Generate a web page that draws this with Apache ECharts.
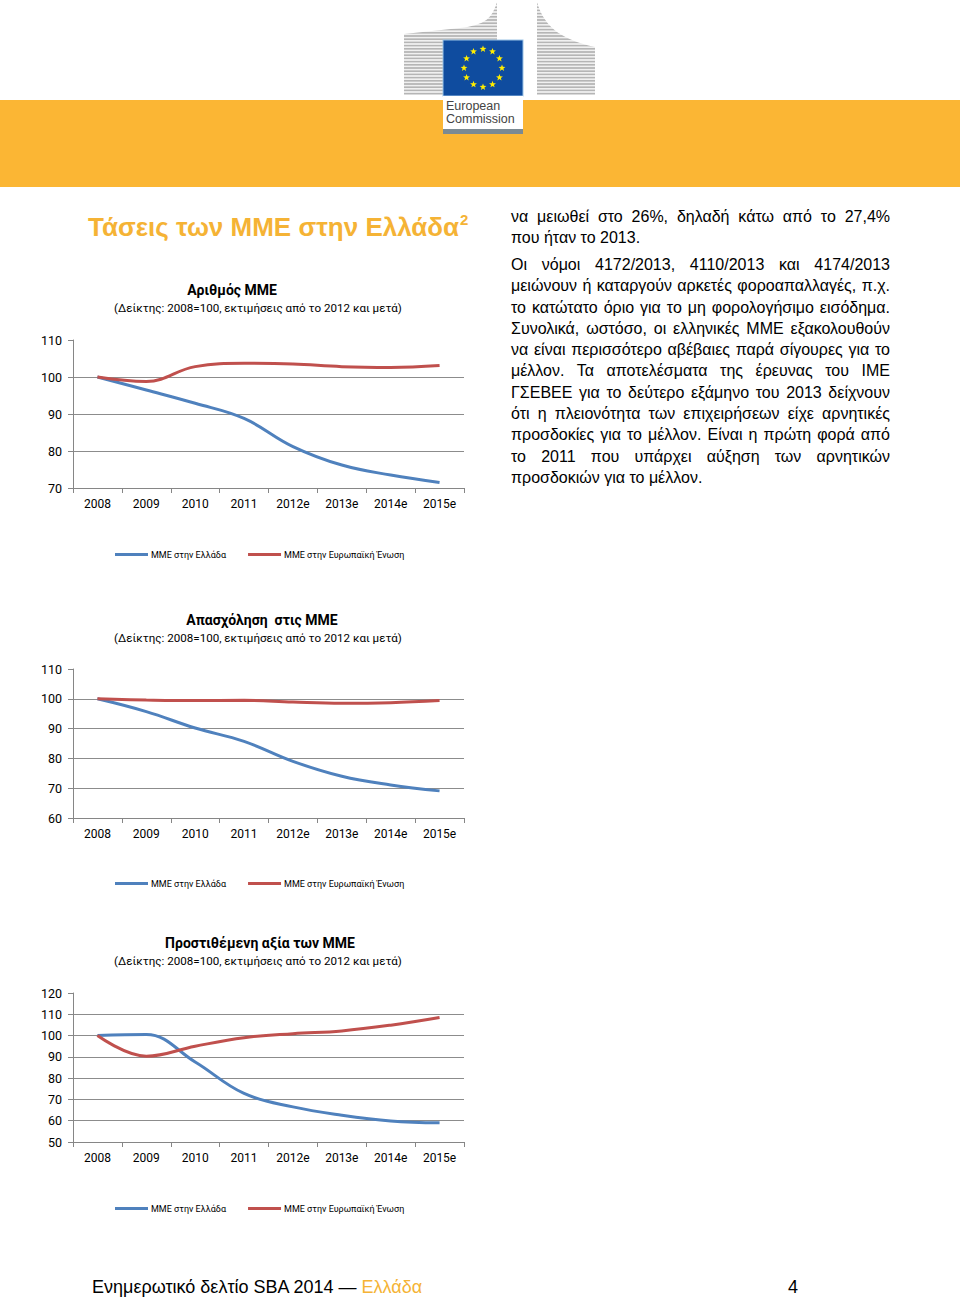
<!DOCTYPE html>
<html><head><meta charset="utf-8">
<script src="https://cdn.jsdelivr.net/npm/echarts@6/dist/echarts.min.js"></script>
<style>
html,body{margin:0;padding:0;background:#fff;}
#page{position:relative;width:960px;height:1297px;overflow:hidden;font-family:"Liberation Sans",Arial,sans-serif;color:#000;}
#band{position:absolute;left:0;top:100px;width:960px;height:87px;background:#FBB634;}
#logo{position:absolute;left:400px;top:0;}
#chart{position:absolute;left:0;top:0;width:960px;height:1297px;}
#heading{position:absolute;left:88px;top:211px;font-size:26px;font-weight:bold;color:#F5B335;white-space:nowrap;line-height:32px;height:32px;}
#heading .sup{font-size:15px;position:relative;top:-11px;margin-left:1px;}
.txt{position:absolute;left:511px;width:379px;font-size:16px;line-height:21.3px;}
.txt div{white-space:nowrap;}
.txt .j{text-align:justify;text-align-last:justify;}
.txt .l{text-align:left;}
#footer{position:absolute;left:92px;top:1275px;font-size:18px;line-height:24px;white-space:nowrap;}
#footer span{color:#F5B335;}
#pagenum{position:absolute;left:788px;top:1275px;font-size:18px;line-height:24px;}
</style>
</head>
<body>
<div id="page">
  <div id="band"></div>
  <svg id="logo" width="200" height="136" xmlns="http://www.w3.org/2000/svg">
    <defs>
      <pattern id="st" width="4" height="3.2" patternUnits="userSpaceOnUse">
        <rect width="4" height="3.2" fill="#f0f0f0"/>
        <rect width="4" height="1.6" fill="#b5b5b5"/>
      </pattern>
    </defs>
    <path d="M4,95 L97,95 L97,2 C92,18 86,25 60,28 L4,34 Z" fill="url(#st)"/>
    <path d="M137,2 L137,95 L195,95 L195,47 C165,40 145,30 137,2 Z" fill="url(#st)"/>
    <rect x="43" y="40" width="80" height="56" fill="#0F4C9F" stroke="#9cc3e6" stroke-width="1"/>
    <g id="stars" fill="#FFED00"></g>
    <rect x="43" y="96" width="80" height="33" fill="#ffffff"/>
    <rect x="43" y="129" width="80" height="5" fill="#7b8a93"/>
    <text x="46" y="110" font-family="Liberation Sans Narrow, Liberation Sans, Arial" font-size="12.5" fill="#444">European</text>
    <text x="46" y="123" font-family="Liberation Sans Narrow, Liberation Sans, Arial" font-size="12.5" fill="#444">Commission</text>
  </svg>
  <div id="chart"></div>
  <div id="heading">Τάσεις των ΜΜΕ στην Ελλάδα<span class="sup">2</span></div>
  <div class="txt" style="top:206px;">
    <div class="j">να μειωθεί στο 26%, δηλαδή κάτω από το 27,4%</div>
    <div class="l">που ήταν το 2013.</div>
  </div>
  <div class="txt" style="top:254px;">
    <div class="j">Οι νόμοι 4172/2013, 4110/2013 και 4174/2013</div>
    <div class="j">μειώνουν ή καταργούν αρκετές φοροαπαλλαγές, π.χ.</div>
    <div class="j">το κατώτατο όριο για το μη φορολογήσιμο εισόδημα.</div>
    <div class="j">Συνολικά, ωστόσο, οι ελληνικές ΜΜΕ εξακολουθούν</div>
    <div class="j">να είναι περισσότερο αβέβαιες παρά σίγουρες για το</div>
    <div class="j">μέλλον. Τα αποτελέσματα της έρευνας του ΙΜΕ</div>
    <div class="j">ΓΣΕΒΕΕ για το δεύτερο εξάμηνο του 2013 δείχνουν</div>
    <div class="j">ότι η πλειονότητα των επιχειρήσεων είχε αρνητικές</div>
    <div class="j">προσδοκίες για το μέλλον. Είναι η πρώτη φορά από</div>
    <div class="j">το 2011 που υπάρχει αύξηση των αρνητικών</div>
    <div class="l">προσδοκιών για το μέλλον.</div>
  </div>
  <div id="footer">Ενημερωτικό δελτίο SBA 2014 — <span>Ελλάδα</span></div>
  <div id="pagenum">4</div>
</div>
<script>
// EU flag stars (decoration)
(function(){
  var g = document.getElementById('stars'), cx = 83, cy = 68, r = 19, s = '';
  for (var i = 0; i < 12; i++) {
    var a = i * Math.PI / 6, x = cx + r * Math.sin(a), y = cy - r * Math.cos(a), pts = [];
    for (var k = 0; k < 10; k++) {
      var rr = k % 2 ? 1.5 : 3.6, b = k * Math.PI / 5;
      pts.push((x + rr * Math.sin(b)).toFixed(2) + ',' + (y - rr * Math.cos(b)).toFixed(2));
    }
    s += '<polygon points="' + pts.join(' ') + '"/>';
  }
  g.innerHTML = s;
})();

// ---- Data ----
const categories = ['2008', '2009', '2010', '2011', '2012e', '2013e', '2014e', '2015e'];
const seriesNames = ['ΜΜΕ στην Ελλάδα', 'ΜΜΕ στην Ευρωπαϊκή Ένωση'];

const chartTitles = ['Αριθμός ΜΜΕ', 'Απασχόληση  στις ΜΜΕ', 'Προστιθέμενη αξία των ΜΜΕ'];
const chartSubtitle = '(Δείκτης: 2008=100, εκτιμήσεις από το 2012 και μετά)';

const numberGreece = [100, 96.5, 92.9, 88.8, 81.2, 76.2, 73.5, 71.5];
const numberEU     = [100, 98.8, 102.8, 103.7, 103.5, 102.8, 102.6, 103.1];

const employmentGreece = [100, 95.7, 90.2, 85.7, 79.0, 74.0, 71.1, 69.1];
const employmentEU     = [100, 99.6, 99.4, 99.5, 98.9, 98.5, 98.7, 99.4];

const valueAddedGreece = [100, 100.5, 87.6, 72.8, 66.5, 62.6, 59.9, 59.0];
const valueAddedEU     = [100, 90.3, 95.0, 99.0, 100.9, 102.2, 104.9, 108.5];

const yTicks1 = [70, 80, 90, 100, 110];
const yTicks2 = [60, 70, 80, 90, 100, 110];
const yTicks3 = [50, 60, 70, 80, 90, 100, 110, 120];

// ---- Layout ----
const FONT = 'Roboto';
const BLUE = '#4F81BD', RED = '#C0504D', AXIS = '#868686', GRID = '#8c8c8c';
const panels = [
  {grid: {left: 73, top: 340, width: 391, height: 148}, ticks: yTicks1, gr: numberGreece, eu: numberEU,
   titleY: 290, titleX: 232, subY: 308, legendY: 554},
  {grid: {left: 73, top: 669, width: 391, height: 149}, ticks: yTicks2, gr: employmentGreece, eu: employmentEU,
   titleY: 620, titleX: 262, subY: 638, legendY: 883},
  {grid: {left: 73, top: 993, width: 391, height: 149}, ticks: yTicks3, gr: valueAddedGreece, eu: valueAddedEU,
   titleY: 943, titleX: 260, subY: 961, legendY: 1208}
];

const option = {
  animation: false,
  grid: [], xAxis: [], yAxis: [], series: [], legend: [], graphic: []
};

panels.forEach(function (p, i) {
  option.grid.push(p.grid);
  option.xAxis.push({
    type: 'category', gridIndex: i, data: categories, boundaryGap: true,
    axisLine: {show: true, lineStyle: {color: AXIS, width: 1}},
    axisTick: {show: true, length: 5, lineStyle: {color: AXIS}},
    axisLabel: {fontFamily: FONT, fontSize: 12, color: '#000', margin: 10},
    splitLine: {show: false}
  });
  const n = p.ticks.length;
  const gridColors = p.ticks.map(function (t, k) { return k === n - 1 ? 'rgba(0,0,0,0)' : GRID; });
  option.yAxis.push({
    type: 'value', gridIndex: i, min: p.ticks[0], max: p.ticks[n - 1], interval: p.ticks[1] - p.ticks[0],
    axisLine: {show: true, lineStyle: {color: AXIS, width: 1}},
    axisTick: {show: true, length: 5, lineStyle: {color: AXIS}},
    axisLabel: {fontFamily: FONT, fontSize: 12.5, color: '#000', margin: 11},
    splitLine: {show: true, lineStyle: {color: gridColors, width: 1}}
  });
  option.series.push({
    name: seriesNames[0], type: 'line', xAxisIndex: i, yAxisIndex: i, data: p.gr,
    smooth: 0.4, symbol: 'none', lineStyle: {color: BLUE, width: 3}, itemStyle: {color: BLUE}
  });
  option.series.push({
    name: seriesNames[1], type: 'line', xAxisIndex: i, yAxisIndex: i, data: p.eu,
    smooth: 0.4, symbol: 'none', lineStyle: {color: RED, width: 3}, itemStyle: {color: RED}
  });
  option.legend.push({
    data: seriesNames, left: 115, top: p.legendY - 4, padding: 0, icon: 'rect', itemWidth: 33, itemHeight: 3,
    itemGap: 22, selectedMode: false,
    textStyle: {fontFamily: FONT, fontSize: 9, color: '#000', padding: [0, 0, 0, -2]}
  });
  option.graphic.push({
    type: 'text', style: {
      text: chartTitles[i], x: p.titleX, y: p.titleY, textAlign: 'center', textVerticalAlign: 'middle',
      font: 'bold 14px ' + FONT, fill: '#000'
    }
  });
  option.graphic.push({
    type: 'text', style: {
      text: chartSubtitle, x: 258, y: p.subY, textAlign: 'center', textVerticalAlign: 'middle',
      font: '11.6px ' + FONT, fill: '#000'
    }
  });
});

const chart = echarts.init(document.getElementById('chart'), null, {renderer: 'svg'});
chart.setOption(option);
</script>
</body></html>
